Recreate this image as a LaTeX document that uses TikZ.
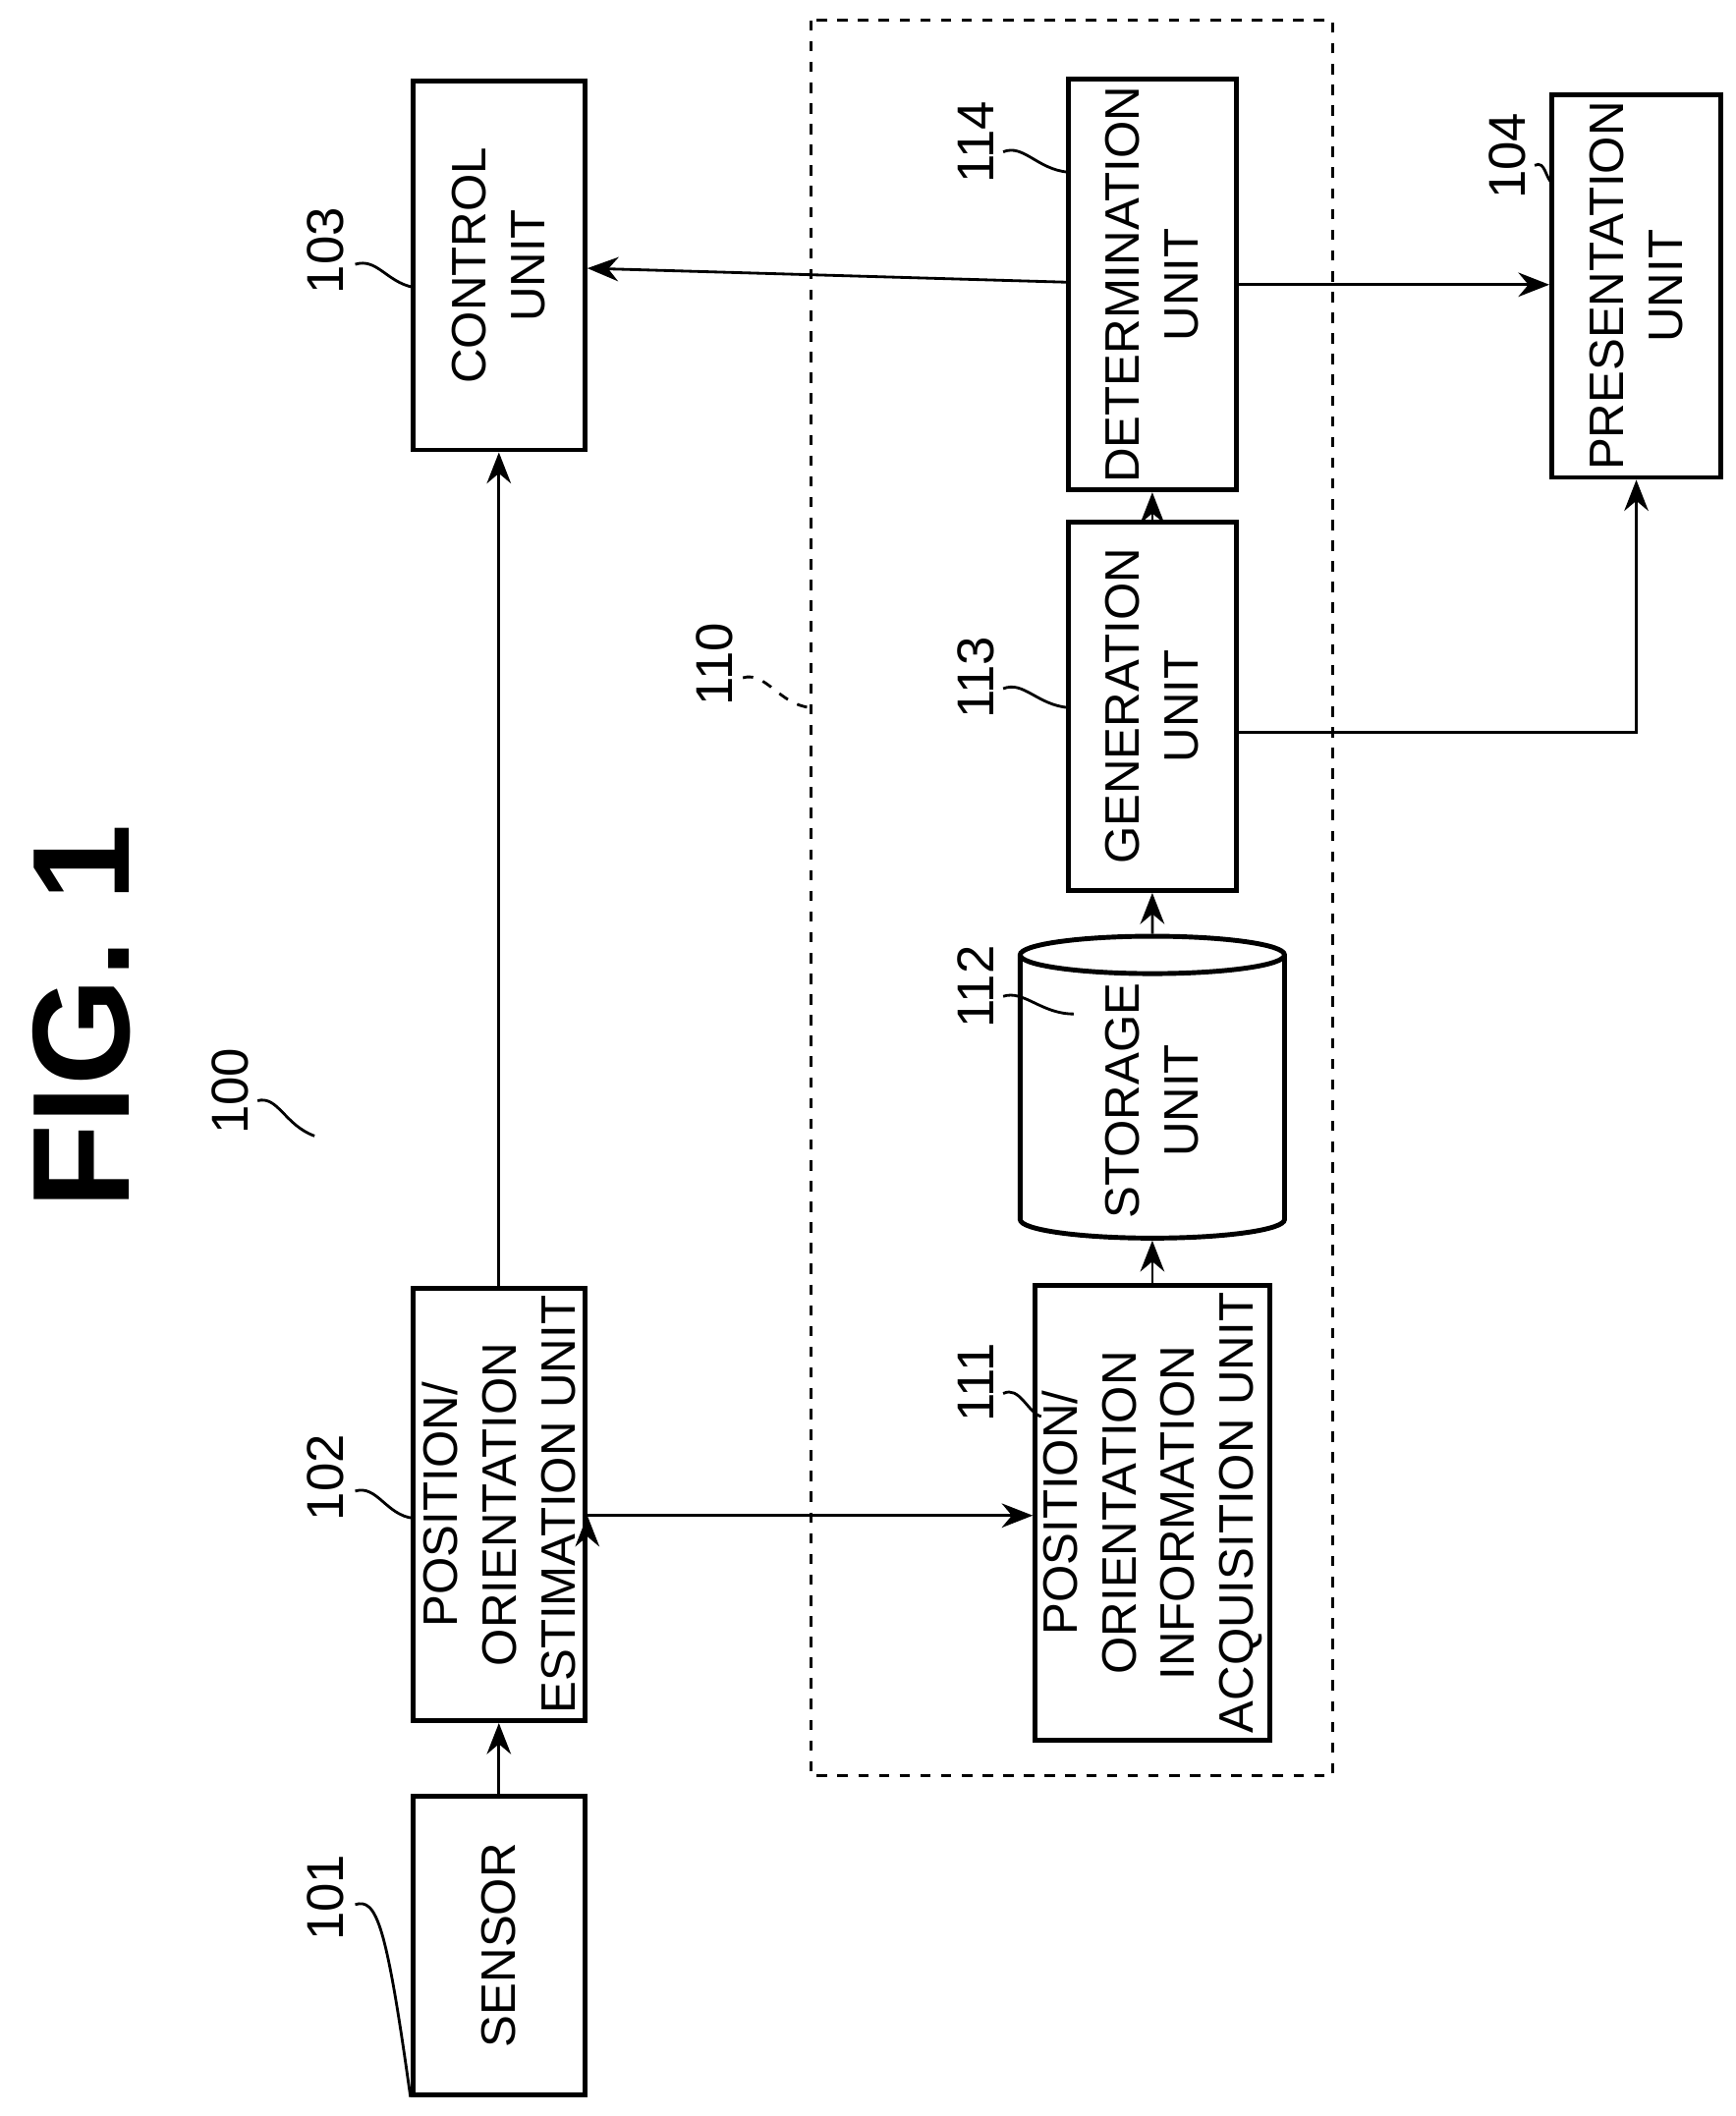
\documentclass[tikz,border=0pt]{standalone}
\usepackage{fontspec}
\setmainfont{Liberation Sans}
\usetikzlibrary{shapes.geometric,arrows.meta}
\begin{document}
\begin{tikzpicture}[x=0.013797cm,y=-0.013797cm,
  blk/.style={draw,line width=1.4pt,rotate=90,align=center,inner sep=2pt,
    font=\fontsize{14}{17}\selectfont},
  lbl/.style={rotate=90,font=\fontsize{15}{18}\selectfont},
  arr/.style={line width=0.8pt,-{Stealth[length=9pt,width=7pt]}},
  lead/.style={line width=0.8pt}]
\useasboundingbox (0,0) rectangle (1280,1561);
% title
\node[rotate=90,font=\fontsize{40}{44}\selectfont\bfseries] (fig) at (60,750) {FIG. 1};
\node[lbl] (l100) at (170,805) {100};
\draw[lead] (190,812) .. controls (205,808) and (210,830) .. (232,838);
% frame 110
\draw[dashed,line width=0.8pt] (598,15) rectangle (983,1310);
\node[lbl] (l110) at (527,490) {110};
\draw[lead,dashed] (548,500) .. controls (565,495) and (575,520) .. (598,522);
% blocks
\node[blk,minimum width=3.04cm,minimum height=1.75cm] (sensor) at (368,1435) {SENSOR};
\node[blk,minimum width=3.73cm,minimum height=1.75cm] (est) at (368,1110) {POSITION/\\ORIENTATION\\ESTIMATION UNIT};
\node[blk,minimum width=3.75cm,minimum height=1.75cm] (ctrl) at (368,196) {CONTROL\\UNIT};
\node[blk,minimum width=3.96cm,minimum height=2.26cm] (acq) at (850,1116) {POSITION/\\ORIENTATION\\INFORMATION\\ACQUISITION UNIT};
\node[blk,cylinder,shape aspect=0.35,minimum width=2.69cm,minimum height=1.68cm] (stor) at (850,812) {STORAGE\\UNIT};
\node[blk,minimum width=3.75cm,minimum height=1.71cm] (gen) at (850,521) {GENERATION\\UNIT};
\node[blk,minimum width=3.80cm,minimum height=1.71cm] (det) at (850,210) {DETERMINATION\\UNIT};
\node[blk,minimum width=3.48cm,minimum height=1.72cm] (pres) at (1207,211) {PRESENTATION\\UNIT};
% reference numerals
\node[lbl] (l101) at (240,1400) {101};
\draw[lead] (262,1405) .. controls (278,1400) and (285,1420) .. (sensor.north west);
\node[lbl] (l102) at (240,1090) {102};
\draw[lead] (262,1100) .. controls (278,1095) and (285,1118) .. (305,1120);
\node[lbl] (l103) at (240,185) {103};
\draw[lead] (262,195) .. controls (278,190) and (285,208) .. (305,212);
\node[lbl] (l111) at (720,1020) {111};
\draw[lead] (740,1028) .. controls (752,1022) and (758,1042) .. (768,1045);
\node[lbl] (l112) at (720,728) {112};
\draw[lead] (740,735) .. controls (755,730) and (768,748) .. (792,748);
\node[lbl] (l113) at (720,500) {113};
\draw[lead] (740,508) .. controls (755,502) and (765,520) .. (788,522);
\node[lbl] (l114) at (720,105) {114};
\draw[lead] (740,112) .. controls (755,106) and (765,125) .. (788,127);
\node[lbl] (l104) at (1112,115) {104};
\draw[lead] (1132,122) .. controls (1140,118) and (1140,132) .. (1145,135);
% connectors
\draw[arr] (sensor) -- (est);
\draw[arr] (est) -- (ctrl);
\draw[arr] (est.south -| est.south) ++(0,0) (est.south) ++(0,8) coordinate (e1);
\draw[arr] (e1) -- (e1 -| acq.north);
\draw[arr] (acq) -- (stor);
\draw[arr] (stor) -- (gen);
\draw[arr] (gen) -- (det);
\draw[arr] (det) -- (ctrl);
\draw[arr] (det) -- (det -| pres.north);
\draw[arr] (gen.south) ++(0,19) coordinate (g1) -- (g1 -| pres) -- (pres.west);
\end{tikzpicture}
\end{document}
